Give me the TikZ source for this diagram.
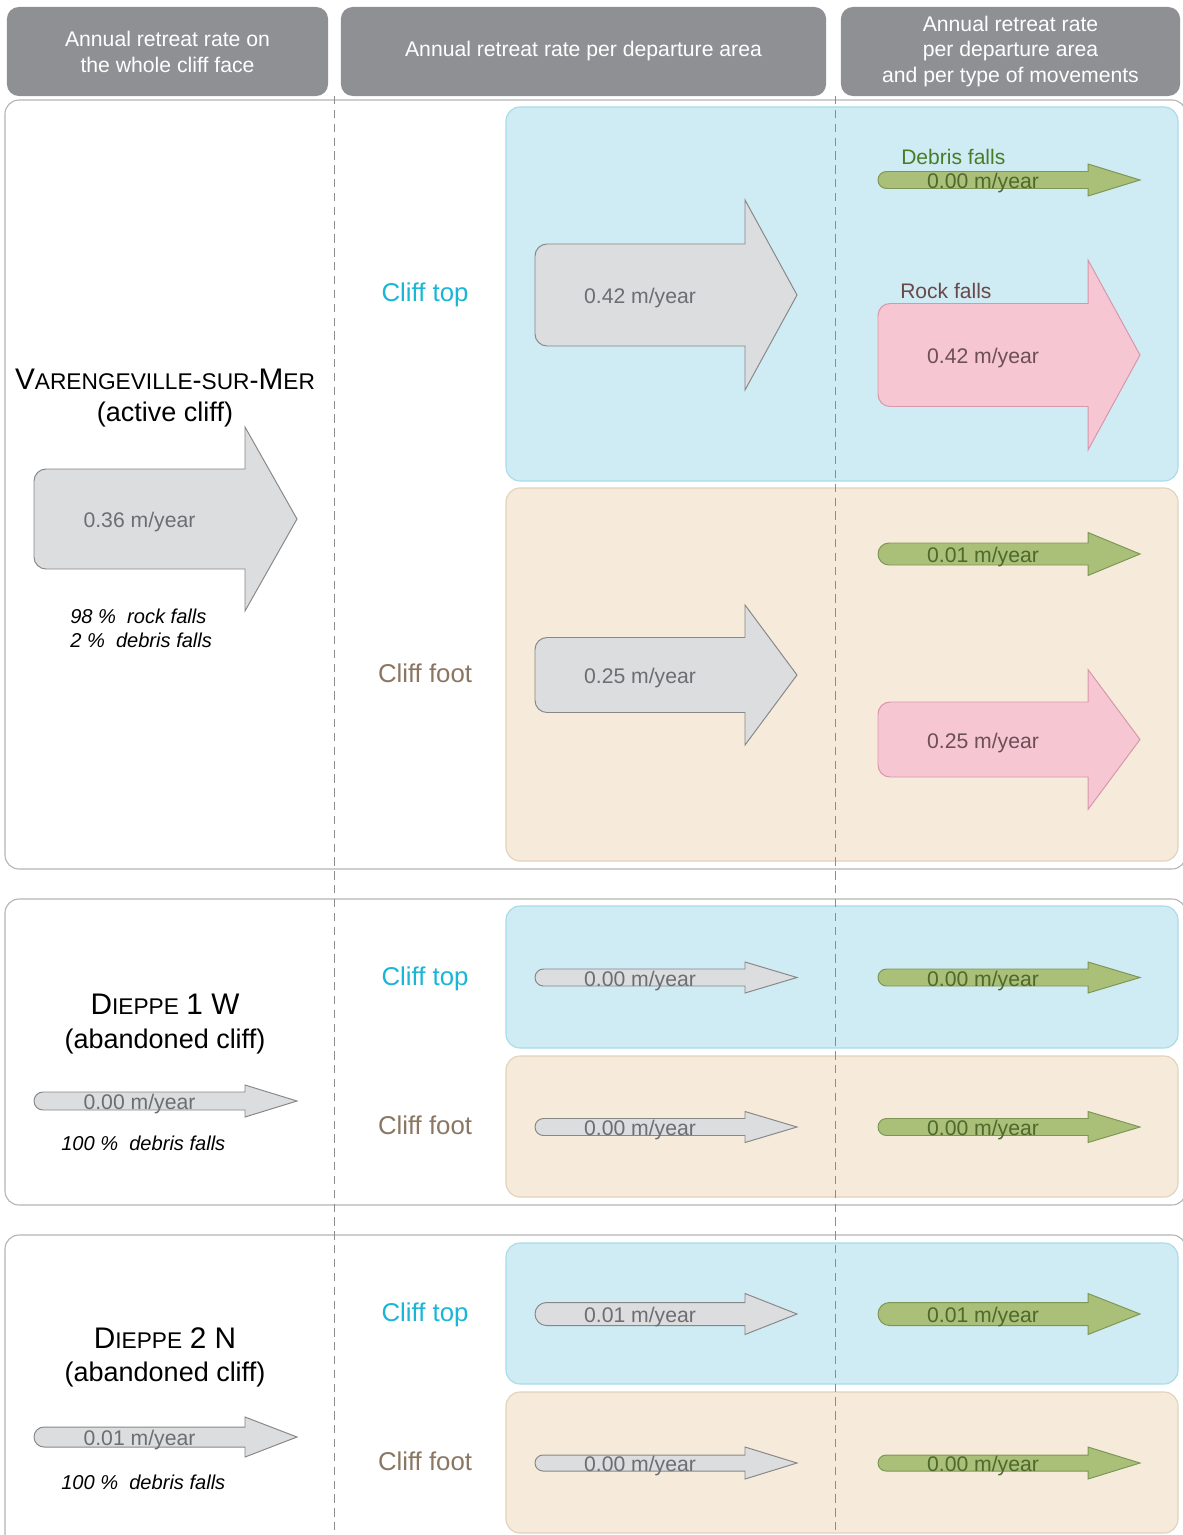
\documentclass[tikz,border=0pt]{standalone}
\usepackage{fontspec}
\setmainfont{Liberation Sans}
\usepackage{tikz}
\usepackage{xcolor}
\usetikzlibrary{positioning}
\definecolor{headgray}{RGB}{143,144,148}
\definecolor{framegray}{RGB}{180,180,180}
\definecolor{dashgray}{RGB}{140,140,140}
\definecolor{topblue}{RGB}{207,235,243}
\definecolor{topline}{RGB}{168,219,234}
\definecolor{footbeige}{RGB}{246,235,218}
\definecolor{footline}{RGB}{226,210,186}
\definecolor{arrgray}{RGB}{220,221,223}
\definecolor{arrgrayline}{RGB}{135,135,135}
\definecolor{arrgreen}{RGB}{170,192,120}
\definecolor{arrgreenline}{RGB}{125,150,85}
\definecolor{arrpink}{RGB}{246,198,211}
\definecolor{arrpinkline}{RGB}{215,150,170}
\definecolor{txtgray}{RGB}{109,110,113}
\definecolor{txtgreen}{RGB}{78,104,46}
\definecolor{txtpink}{RGB}{108,80,86}
\definecolor{topcyan}{RGB}{26,182,214}
\definecolor{footbrown}{RGB}{139,118,98}
\definecolor{debrisgreen}{RGB}{72,125,40}
\definecolor{rockbrown}{RGB}{105,72,72}

\newcommand\smc[1]{{\fontsize{16.4}{23}\selectfont #1}}
% arrow: style, name, left x, tip x, centre y, half body, half head, label style, label
\newcommand\ratearrow[9]{%
  \pgfmathsetmacro\headx{#4-52}%
  \pgfmathsetmacro\cornr{min(12,#6)}%
  \draw[#1] (\headx,#5-#6) -- (#3+\cornr,#5-#6)
    arc[start angle=-90, end angle=-180, radius=\cornr] -- (#3,#5+#6-\cornr)
    arc[start angle=180, end angle=90, radius=\cornr] -- (\headx,#5+#6)
    -- (\headx,#5+#7) -- (#4,#5) -- (\headx,#5-#7) -- cycle;
  \node[#8] (#2) at ({(#3+\headx)/2},#5+3.5) {#9};
}

\begin{document}
\begin{tikzpicture}[x=0.01in, y=-0.01in,
    header/.style={fill=headgray, text=white, rounded corners=0.12in, minimum height=0.89in, align=center, inner sep=0pt, font=\fontsize{15.3}{18.7}\selectfont},
    panel/.style={draw=framegray, line width=0.8pt, fill=white, rounded corners=0.14in},
    toppane/.style={draw=topline, line width=0.8pt, fill=topblue, rounded corners=0.14in},
    footpane/.style={draw=footline, line width=0.8pt, fill=footbeige, rounded corners=0.14in},
    divider/.style={draw=dashgray, line width=0.7pt, dash pattern=on 6pt off 4pt},
    grayarrow/.style={draw=arrgrayline, fill=arrgray, line width=0.7pt},
    greenarrow/.style={draw=arrgreenline, fill=arrgreen, line width=0.7pt},
    pinkarrow/.style={draw=arrpinkline, fill=arrpink, line width=0.7pt},
    graylabel/.style={text=txtgray, inner sep=0pt, font=\fontsize{15.3}{18}\selectfont},
    greenlabel/.style={text=txtgreen, inner sep=0pt, font=\fontsize{15.3}{18}\selectfont},
    pinklabel/.style={text=txtpink, inner sep=0pt, font=\fontsize{15.3}{18}\selectfont},
    sitetitle/.style={align=center, inner sep=0pt, font=\fontsize{19.5}{23.5}\selectfont},
    share/.style={anchor=west, align=left, inner sep=0pt, font=\fontsize{14.5}{17.3}\selectfont\itshape},
    toplabel/.style={text=topcyan, inner sep=0pt, font=\fontsize{18.6}{22}\selectfont},
    footlabel/.style={text=footbrown, inner sep=0pt, font=\fontsize{18.6}{22}\selectfont},
    movelabel/.style={anchor=west, inner sep=0pt, font=\fontsize{15.2}{18}\selectfont}]
  \useasboundingbox (0,0) rectangle (1182,1535);
  \fill[white] (0,0) rectangle (1182,1535);

  % column headers
  \node[header, minimum width=3.21in] (hwhole) at (167.5,51.5) {Annual retreat rate on\\the whole cliff face};
  \node[header, minimum width=4.85in] (harea) at (583.5,51.5) {Annual retreat rate per departure area};
  \node[header, minimum width=3.39in] (htype) at (1010.5,51.5) {Annual retreat rate\\per departure area\\and per type of movements};

  % site panels
  \draw[panel] (5,100) rectangle (1186,869);
  \draw[panel] (5,899) rectangle (1186,1205);
  \draw[panel] (5,1235) rectangle (1186,1550);
  \draw[toppane] (506,107) rectangle (1178,481);
  \draw[footpane] (506,488) rectangle (1178,861);
  \draw[toppane] (506,906) rectangle (1178,1048);
  \draw[footpane] (506,1056) rectangle (1178,1197);
  \draw[toppane] (506,1243) rectangle (1178,1384);
  \draw[footpane] (506,1392) rectangle (1178,1533);
  \draw[divider] (334,96) -- (334,1535);
  \draw[divider] (835,96) -- (835,1535);

  % Varengeville
  \node[sitetitle] (varen) at (165,398) {{\fontsize{21.5}{23.5}\selectfont V}\smc{ARENGEVILLE}-\smc{SUR}-{\fontsize{21.5}{23.5}\selectfont M}\smc{ER}\\(active cliff)};
  \ratearrow{grayarrow}{wholevaren}{34}{297}{519}{50}{92}{graylabel}{0.36 m/year}
  \node[share] (sharevaren) at (70,628) {98 \%\ \ rock falls\\2 \%\ \ debris falls};
  \node[toplabel] (top1) at (425,295) {Cliff top};
  \node[footlabel] (foot1) at (425,673) {Cliff foot};
  \ratearrow{grayarrow}{areatop1}{535}{797}{295}{51}{95}{graylabel}{0.42 m/year}
  \ratearrow{grayarrow}{areafoot1}{535}{797}{675}{37.5}{70}{graylabel}{0.25 m/year}
  \node[movelabel, text=debrisgreen] (debris1) at (901,157) {Debris falls};
  \ratearrow{greenarrow}{debristop1}{878}{1140}{180}{8.5}{16}{greenlabel}{0.00 m/year}
  \node[movelabel, text=rockbrown] (rock1) at (900,291) {Rock falls};
  \ratearrow{pinkarrow}{rocktop1}{878}{1140}{355}{51.5}{95}{pinklabel}{0.42 m/year}
  \ratearrow{greenarrow}{debrisfoot1}{878}{1140}{554}{11}{21.5}{greenlabel}{0.01 m/year}
  \ratearrow{pinkarrow}{rockfoot1}{878}{1140}{739.5}{37.5}{70}{pinklabel}{0.25 m/year}

  % Dieppe 1 W
  \node[sitetitle, font=\fontsize{19.5}{24.5}\selectfont] (dieppe1) at (165,1024) {{\fontsize{21.5}{24.5}\selectfont D}\smc{IEPPE} {\fontsize{21.5}{24.5}\selectfont 1 W}\\(abandoned cliff)};
  \ratearrow{grayarrow}{wholedie1}{34}{297}{1101}{9}{16}{graylabel}{0.00 m/year}
  \node[share] (sharedie1) at (61,1143) {100 \%\ \ debris falls};
  \node[toplabel] (top2) at (425,979) {Cliff top};
  \node[footlabel] (foot2) at (425,1125) {Cliff foot};
  \ratearrow{grayarrow}{areatop2}{535}{797}{977.5}{8.5}{15.5}{graylabel}{0.00 m/year}
  \ratearrow{grayarrow}{areafoot2}{535}{797}{1127}{8.5}{15.5}{graylabel}{0.00 m/year}
  \ratearrow{greenarrow}{debristop2}{878}{1140}{977.5}{8.5}{15.5}{greenlabel}{0.00 m/year}
  \ratearrow{greenarrow}{debrisfoot2}{878}{1140}{1127}{8.5}{15.5}{greenlabel}{0.00 m/year}

  % Dieppe 2 N
  \node[sitetitle, font=\fontsize{19.5}{24}\selectfont] (dieppe2) at (165,1357) {{\fontsize{21.5}{24}\selectfont D}\smc{IEPPE} {\fontsize{21.5}{24}\selectfont 2 N}\\(abandoned cliff)};
  \ratearrow{grayarrow}{wholedie2}{34}{297}{1437}{10}{20}{graylabel}{0.01 m/year}
  \node[share] (sharedie2) at (61,1482) {100 \%\ \ debris falls};
  \node[toplabel] (top3) at (425,1315) {Cliff top};
  \node[footlabel] (foot3) at (425,1461) {Cliff foot};
  \ratearrow{grayarrow}{areatop3}{535}{797}{1314}{11.5}{20.5}{graylabel}{0.01 m/year}
  \ratearrow{grayarrow}{areafoot3}{535}{797}{1463}{8}{16}{graylabel}{0.00 m/year}
  \ratearrow{greenarrow}{debristop3}{878}{1140}{1314}{11.5}{20.5}{greenlabel}{0.01 m/year}
  \ratearrow{greenarrow}{debrisfoot3}{878}{1140}{1463}{8}{16}{greenlabel}{0.00 m/year}
\end{tikzpicture}
\end{document}
